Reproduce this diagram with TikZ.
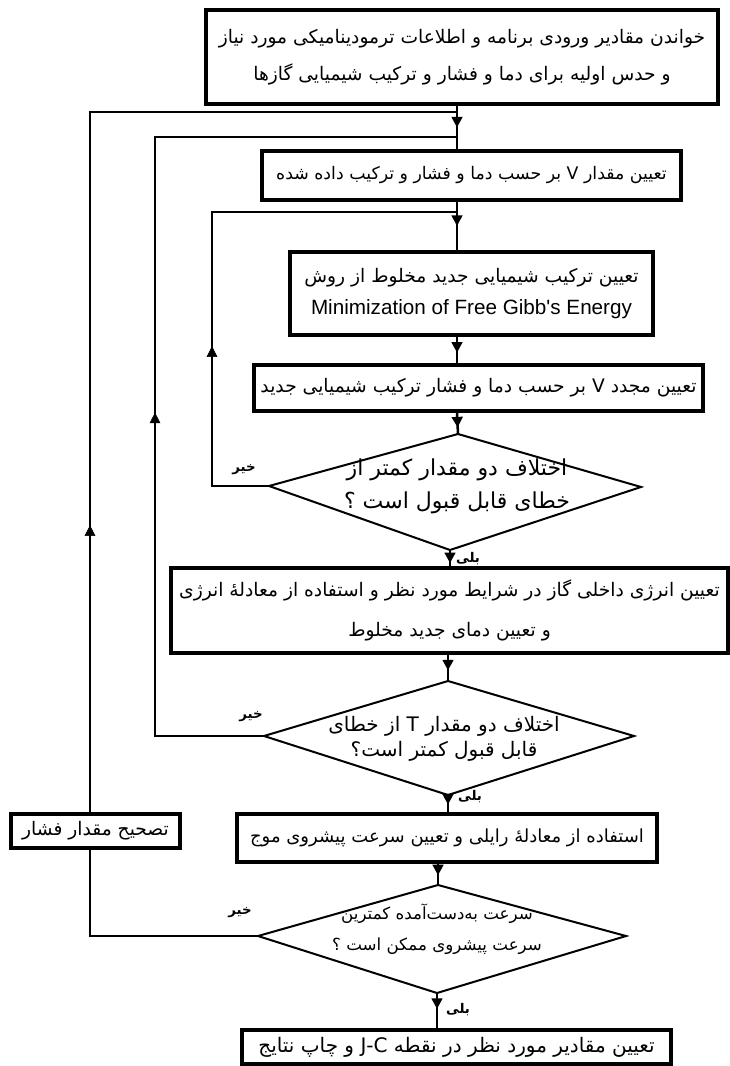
\documentclass[tikz,border=0pt]{standalone}
\usepackage{fontspec}
\setmainfont{DejaVu Sans}
\newfontfamily\fa[Script=Arabic]{DejaVu Sans}
\newfontfamily\lat{Liberation Sans}
\TeXXeTstate=1
\usetikzlibrary{arrows.meta,decorations.markings}
\begin{document}
\begin{tikzpicture}[x=0.75pt,y=-0.75pt,
  box/.style={draw, line width=2.3pt, inner sep=0pt, anchor=center, align=center},
  ln/.style={line width=1.9pt},
  dia/.style={draw, line width=1.5pt, line join=miter},
  dtext/.style={inner sep=0pt, align=center},
  lbl/.style={font=\fa\bfseries\fontsize{10}{11}\selectfont, inner sep=0pt},
  midarr/.style={postaction={decorate},decoration={markings,mark=at position #1 with {\arrow{Triangle[length=8pt,width=8pt]}}}},
]
\fill[white] (0,0) rectangle (730,1066);
\useasboundingbox (0,0) rectangle (730,1066);

% trunk x positions
\coordinate (t1) at (457,0);
\coordinate (t3) at (448,0);
\coordinate (t4) at (438,0);

% boxes
\node[box, minimum width=384pt, minimum height=70.5pt, font=\fa\fontsize{14}{27.75}\selectfont] (B1) at (462,57)
  {\beginR خواندن مقادیر ورودی برنامه و اطلاعات ترمودینامیکی مورد نیاز\endR\\
   \beginR و حدس اولیه برای دما و فشار و ترکیب شیمیایی گازها\endR};
\node[box, minimum width=314.25pt, minimum height=36.75pt, font=\fa\fontsize{13}{15}\selectfont] (B2) at (471.5,175.5)
  {\beginR تعیین مقدار V بر حسب دما و فشار و ترکیب داده شده\endR};
\node[box, minimum width=272.25pt, minimum height=62.25pt, font=\fa\fontsize{14}{24}\selectfont] (B3) at (471.5,293.5)
  {\beginR تعیین ترکیب شیمیایی جدید مخلوط از روش\endR\\
   {\lat\fontsize{15.5}{24}\selectfont Minimization of Free Gibb's Energy}};
\node[box, minimum width=336.75pt, minimum height=34.5pt, font=\fa\fontsize{14}{16}\selectfont] (B4) at (478.5,388)
  {\beginR تعیین مجدد V بر حسب دما و فشار ترکیب شیمیایی جدید\endR};
\node[box, minimum width=417.75pt, minimum height=63.75pt, font=\fa\fontsize{14}{30}\selectfont] (B5) at (449.5,610.5)
  {\beginR تعیین انرژی داخلی گاز در شرایط مورد نظر و استفاده از معادلهٔ انرژی\endR\\
   \beginR و تعیین دمای جدید مخلوط\endR};
\node[box, minimum width=315pt, minimum height=36pt, font=\fa\fontsize{13.5}{16}\selectfont] (B6) at (447,838)
  {\beginR استفاده از معادلهٔ رایلی و تعیین سرعت پیشروی موج\endR};
\node[box, minimum width=321.75pt, minimum height=25.5pt, font=\fa\fontsize{15}{17}\selectfont] (B7) at (456.5,1047)
  {\beginR تعیین مقادیر مورد نظر در نقطه \beginL J-C\endL{} و چاپ نتایج\endR};
\node[box, minimum width=126.75pt, minimum height=25.5pt, font=\fa\fontsize{14}{16}\selectfont] (LB) at (95.5,831)
  {\beginR تصحیح مقدار فشار\endR};

% diamonds
\coordinate (D1t) at (458,434); \coordinate (D1l) at (269,486);
\coordinate (D1r) at (641,487); \coordinate (D1b) at (450,550);
\draw[dia] (D1t) -- (D1r) -- (D1b) -- (D1l) -- cycle;
\node[dtext, font=\fa\fontsize{16.5}{24.75}\selectfont] (D1) at (457,486)
  {\beginR اختلاف دو مقدار کمتر از\endR\\
   \beginR خطای قابل قبول است ؟\endR};

\coordinate (D2t) at (448,681); \coordinate (D2l) at (264,736);
\coordinate (D2r) at (634,736); \coordinate (D2b) at (448,795);
\draw[dia] (D2t) -- (D2r) -- (D2b) -- (D2l) -- cycle;
\node[dtext, font=\fa\fontsize{15}{19}\selectfont] (D2) at (444,739)
  {\beginR اختلاف دو مقدار T از خطای\endR\\
   \beginR قابل قبول کمتر است؟\endR};

\coordinate (D3t) at (438,885); \coordinate (D3l) at (258,936);
\coordinate (D3r) at (626,936); \coordinate (D3b) at (437,993);
\draw[dia] (D3t) -- (D3r) -- (D3b) -- (D3l) -- cycle;
\node[dtext, font=\fa\fontsize{12.5}{23}\selectfont] (D3) at (437,929)
  {\beginR سرعت به‌دست‌آمده کمترین\endR\\
   \beginR سرعت پیشروی ممکن است ؟\endR};

% trunk connectors
\draw[ln, midarr=0.5] (B1.south -| t1) -- (B2.north -| t1);
\draw[ln, midarr=0.5] (B2.south -| t1) -- (B3.north -| t1);
\draw[ln, midarr=0.6] (B3.south -| t1) -- (B4.north -| t1);
\draw[ln, midarr=0.7] (B4.south -| t1) -- (D1t);
\draw[ln, midarr=0.8] (D1b) -- (D1b |- B5.north);
\draw[ln, midarr=0.6] (B5.south -| t3) -- (D2t);
\draw[ln, midarr=0.55] (D2b) -- (D2b |- B6.north);
\draw[ln, midarr=0.55] (B6.south -| t4) -- (D3t);
\draw[ln, midarr=0.45] (D3b) -- (D3b |- B7.north);

% loops
\coordinate (L3) at (212,212);
\coordinate (L2) at (155,137);
\coordinate (L1) at (90,112);
\draw[ln] (D1l) -| (L3) -- (L3 -| t1);
\path[midarr=0.51] (D1l -| L3) -- (L3);
\draw[ln] (D2l) -| (L2) -- (L2 -| t1);
\path[midarr=0.54] (D2l -| L2) -- (L2);
\draw[ln] (D3l) -| (LB.south -| L1);
\draw[ln] (LB.north -| L1) -- (L1) -- (L1 -| t1);
\path[midarr=0.41] (LB.north -| L1) -- (L1);

% labels
\node[lbl] (n1) at (244,470) {\beginR خیر\endR};
\node[lbl] (n2) at (251,717) {\beginR خیر\endR};
\node[lbl] (n3) at (240,913) {\beginR خیر\endR};
\node[lbl] (y1) at (468,559) {\beginR بلی\endR};
\node[lbl] (y2) at (470,797) {\beginR بلی\endR};
\node[lbl] (y3) at (458,1010) {\beginR بلی\endR};
\end{tikzpicture}
\end{document}
